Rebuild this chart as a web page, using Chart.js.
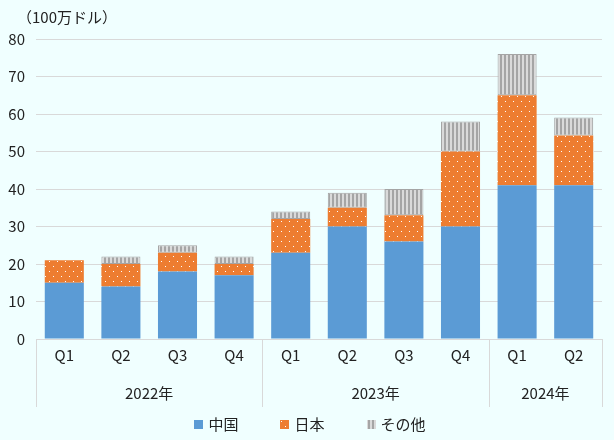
<!DOCTYPE html>
<html>
<head>
<meta charset="utf-8">
<script src="https://cdn.jsdelivr.net/npm/chart.js@4"></script>
<style>
  html, body { margin: 0; padding: 0; background: #F0FFFF; }
  #wrap { width: 614px; height: 440px; }
</style>
</head>
<body>
<div id="wrap"><canvas id="grafico" width="614" height="440"></canvas></div>
<script>
const quarters = ['Q1', 'Q2', 'Q3', 'Q4', 'Q1', 'Q2', 'Q3', 'Q4', 'Q1', 'Q2'];
const years = ['2022年', '2023年', '2024年'];
const yearSpans = [[0, 3], [4, 7], [8, 9]];
const china = [15, 14, 18, 17, 23, 30, 26, 30, 41, 41];
const japan = [6, 6, 5, 3, 9, 5, 7, 20, 24, 13.3];
const others = [0, 2, 2, 2, 2, 4, 7, 8, 11, 4.8];
const yTicks = [0, 10, 20, 30, 40, 50, 60, 70, 80];
const unitLabel = '（100万ドル）';

const FONT = '"Noto Sans CJK JP", "Noto Sans", sans-serif';
const TEXT = '#222';
const GRID = '#D9D9D9';

// patterns
function dotPattern() {
    const c = document.createElement('canvas');
    c.width = 8; c.height = 10;
    const g = c.getContext('2d');
    g.fillStyle = '#ED7D31';
    g.fillRect(0, 0, 8, 10);
    g.fillStyle = '#FFFFFF';
    g.fillRect(1, 1, 1, 1);
    g.fillRect(5, 6, 1, 1);
    return g.createPattern(c, 'repeat');
}
function stripePattern() {
    const c = document.createElement('canvas');
    c.width = 4; c.height = 4;
    const g = c.getContext('2d');
    g.fillStyle = '#A5A5A5';
    g.fillRect(0, 0, 4, 4);
    g.fillStyle = '#DADADA';
    g.fillRect(2, 0, 2, 4);
    return g.createPattern(c, 'repeat');
}

const bgPlugin = {
    id: 'bg',
    beforeDraw(chart) {
        const ctx = chart.ctx;
        ctx.save();
        ctx.fillStyle = '#F0FFFF';
        ctx.fillRect(0, 0, chart.width, chart.height);
        ctx.restore();
    }
};

// year groups, separators, unit label and legend
const extrasPlugin = {
    id: 'extras',
    afterDraw(chart) {
        const ctx = chart.ctx;
        const x = chart.scales.x;
        const area = chart.chartArea;
        const step = x.getPixelForValue(1) - x.getPixelForValue(0);
        ctx.save();
        ctx.strokeStyle = GRID;
        ctx.lineWidth = 1;
        const bounds = [x.getPixelForValue(0) - step / 2];
        yearSpans.forEach(s => bounds.push(x.getPixelForValue(s[1]) + step / 2));
        bounds.forEach(bx => {
            const px = Math.round(bx) + 0.5;
            ctx.beginPath();
            ctx.moveTo(px, area.bottom);
            ctx.lineTo(px, area.bottom + 68);
            ctx.stroke();
        });
        ctx.fillStyle = TEXT;
        ctx.font = '15px ' + FONT;
        ctx.textAlign = 'center';
        ctx.textBaseline = 'middle';
        yearSpans.forEach((s, i) => {
            const cx = (x.getPixelForValue(s[0]) + x.getPixelForValue(s[1])) / 2;
            ctx.fillText(years[i], cx, area.bottom + 54);
        });
        ctx.textAlign = 'left';
        ctx.fillText(unitLabel, 17, 17);

        // legend
        const items = chart.data.datasets;
        const widths = items.map(d => 9 + 5 + ctx.measureText(d.label).width);
        const gap = 42;
        const total = widths.reduce((a, b) => a + b, 0) + gap * (items.length - 1);
        let lx = 310 - total / 2;
        const ly = 424;
        items.forEach((d, i) => {
            ctx.fillStyle = d.backgroundColor;
            ctx.fillRect(Math.round(lx), ly - 4, 9, 9);
            ctx.fillStyle = TEXT;
            ctx.fillText(d.label, lx + 14, ly);
            lx += widths[i] + gap;
        });
        ctx.restore();
    }
};

const ctxGrafico = document.getElementById('grafico').getContext('2d');

new Chart(ctxGrafico, {
    type: 'bar',
    data: {
        labels: quarters,
        datasets: [
            { label: '中国', data: china, backgroundColor: '#5B9BD5' },
            { label: '日本', data: japan, backgroundColor: dotPattern() },
            {
                label: 'その他', data: others, backgroundColor: stripePattern(), borderColor: '#A5A5A5',
                borderWidth: c => (c.raw ? 1 : 0), borderSkipped: false
            }
        ]
    },
    options: {
        responsive: false,
        animation: false,
        devicePixelRatio: 1,
        layout: { padding: { top: 39, right: 12, bottom: 0, left: 0 } },
        datasets: { bar: { categoryPercentage: 1, barPercentage: 0.69 } },
        plugins: {
            legend: { display: false },
            tooltip: { enabled: false }
        },
        scales: {
            x: {
                stacked: true,
                grid: { display: false, drawTicks: false },
                border: { display: true, color: GRID },
                ticks: { color: TEXT, font: { family: FONT, size: 15 }, padding: 7 },
                afterFit(scale) { scale.height = 101; }
            },
            y: {
                stacked: true,
                min: 0,
                max: 80,
                afterBuildTicks(scale) { scale.ticks = yTicks.map(v => ({ value: v })); },
                grid: { color: GRID, drawTicks: false },
                border: { display: false },
                ticks: { color: TEXT, font: { family: FONT, size: 15 }, padding: 11 },
                afterFit(scale) { scale.width = 36; }
            }
        }
    },
    plugins: [bgPlugin, extrasPlugin]
});
</script>
</body>
</html>
